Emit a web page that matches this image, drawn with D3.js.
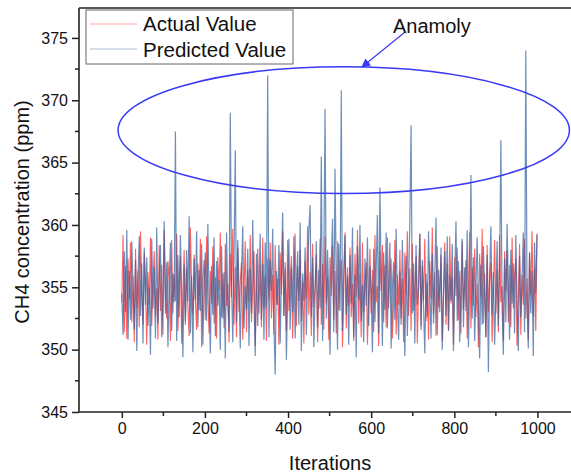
<!DOCTYPE html>
<html>
<head>
<meta charset="utf-8">
<script src="https://cdn.jsdelivr.net/npm/d3@7"></script>
<style>
  body { margin: 0; background: #fff; }
  text { font-family: Arial, "Liberation Sans", sans-serif; }
</style>
</head>
<body>
<svg class="chart" width="571" height="474"></svg>
<script>
// iteration step between samples
var iterStep = 3;

var actualValues = [
  353.8, 359.2, 351.4, 356.7, 350.9, 357.3, 354.1, 358.6, 352.2, 355.9, 350.6, 358.1, 353.3, 356.4, 351.8, 359.5, 354.7, 352.0, 357.8, 355.1,
  350.4, 356.2, 353.6, 359.0, 351.9, 355.4, 357.9, 352.7, 354.9, 350.8, 358.4, 353.1, 356.8, 351.2, 359.6, 354.4, 352.5, 357.1, 355.7, 350.7,
  358.8, 352.9, 356.0, 353.9, 359.3, 351.5, 355.2, 357.5, 350.5, 354.6, 358.0, 352.3, 356.5, 353.4, 351.1, 359.8, 355.0, 352.8, 357.6, 354.0,
  351.6, 356.9, 353.2, 358.9, 350.2, 355.6, 357.2, 352.4, 359.1, 354.3, 351.3, 356.3, 353.7, 358.3, 352.1, 355.8, 350.9, 357.4, 354.8, 359.4,
  352.6, 356.1, 351.7, 358.5, 353.5, 355.3, 350.6, 357.7, 354.2, 359.7, 352.0, 356.6, 351.0, 358.2, 353.0, 355.5, 357.0, 350.8, 354.5, 358.7,
  351.4, 356.4, 353.8, 359.2, 352.2, 355.1, 357.9, 350.3, 354.7, 358.1, 352.9, 356.8, 351.8, 359.0, 353.3, 355.9, 350.7, 357.3, 354.0, 358.6,
  352.5, 356.0, 351.2, 358.4, 353.6, 355.7, 350.4, 357.8, 354.4, 359.5, 352.7, 356.5, 351.5, 358.8, 353.1, 355.2, 357.5, 350.9, 354.9, 359.3,
  351.9, 356.7, 353.9, 358.0, 352.3, 355.4, 350.5, 357.1, 354.1, 359.9, 352.8, 356.2, 351.1, 358.5, 353.4, 355.0, 357.6, 350.6, 354.6, 358.9,
  352.0, 356.9, 351.6, 359.1, 353.7, 355.8, 350.8, 357.4, 354.3, 358.3, 352.4, 356.3, 351.3, 358.7, 353.2, 355.6, 357.2, 350.2, 354.8, 359.4,
  351.7, 356.6, 353.5, 358.2, 352.6, 355.3, 350.7, 357.7, 354.2, 359.6, 352.1, 356.1, 351.0, 358.6, 353.0, 355.5, 357.0, 350.4, 354.5, 358.1,
  352.9, 356.4, 351.4, 359.2, 353.8, 355.1, 350.3, 357.9, 354.7, 358.4, 352.2, 356.8, 351.8, 359.0, 353.3, 355.9, 357.3, 350.9, 354.0, 358.8,
  351.2, 356.0, 353.6, 358.0, 352.5, 355.7, 350.6, 357.8, 354.4, 359.5, 352.7, 356.5, 351.5, 358.5, 353.1, 355.2, 357.5, 350.5, 354.9, 359.3,
  351.9, 356.7, 353.9, 358.9, 352.3, 355.4, 350.8, 357.1, 354.1, 359.8, 352.8, 356.2, 351.1, 358.3, 353.4, 355.0, 357.6, 350.7, 354.6, 358.6,
  352.0, 356.9, 351.6, 359.1, 353.7, 355.8, 350.4, 357.4, 354.3, 358.2, 352.4, 356.3, 351.3, 358.7, 353.2, 355.6, 357.2, 350.9, 354.8, 359.4,
  351.7, 356.6, 353.5, 358.1, 352.6, 355.3, 350.2, 357.7, 354.2, 359.7, 352.1, 356.1, 351.0, 358.4, 353.0, 355.5, 357.0, 350.6, 354.5, 358.8,
  352.9, 356.4, 351.4, 359.2, 353.8, 355.1, 350.7, 357.9, 354.7, 358.0, 352.2, 356.8, 351.8, 359.0, 353.3, 355.9, 357.3, 350.3, 354.0, 358.5,
  351.2, 356.0, 353.6, 358.9, 352.5, 355.7, 350.8, 357.8, 354.4, 359.5, 352.7, 356.5, 351.5, 359.2
];

var predictedValues = [
  354.5, 351.2, 357.9, 353.0, 359.6, 350.8, 356.3, 352.4, 358.7, 354.9, 351.6, 357.2, 349.9, 355.8, 359.1, 352.7, 356.9, 350.5, 358.2, 353.6,
  357.4, 351.9, 355.0, 349.6, 358.9, 353.3, 356.6, 350.9, 359.8, 352.1, 355.7, 358.4, 351.0, 354.2, 360.3, 352.9, 357.0, 350.2, 355.4, 358.6,
  351.5, 356.1, 353.8, 367.5, 350.7, 357.6, 352.6, 359.2, 354.6, 349.4, 356.8, 352.0, 358.0, 353.9, 360.7, 351.3, 355.9, 349.8, 357.3, 354.0,
  359.5, 351.8, 356.4, 353.1, 358.5, 350.4, 355.2, 357.8, 352.3, 360.1, 354.3, 349.7, 356.7, 352.8, 359.0, 351.1, 357.1, 353.5, 355.6, 350.0,
  358.3, 352.5, 356.2, 349.3, 359.4, 353.7, 351.4, 369.0, 355.3, 350.6, 357.5, 366.0, 352.2, 358.8, 354.8, 350.1, 356.0, 359.9, 351.7, 355.1,
  353.2, 358.1, 350.3, 356.5, 352.9, 360.4, 354.1, 349.5, 357.7, 351.9, 355.5, 359.3, 352.4, 356.9, 350.8, 358.6, 353.4, 372.0, 351.0, 357.2,
  354.7, 359.7, 352.1, 348.0, 356.3, 353.6, 358.4, 350.5, 355.8, 361.0, 352.7, 357.0, 349.2, 354.4, 358.9, 351.6, 356.6, 353.0, 359.1, 350.9,
  355.0, 357.9, 352.0, 360.2, 349.9, 356.1, 353.9, 358.2, 351.2, 355.6, 359.6, 361.6, 352.6, 357.4, 350.2, 354.5, 358.7, 351.8, 356.4, 353.3,
  365.5, 350.7, 357.1, 369.3, 352.5, 358.0, 354.2, 349.6, 356.8, 360.5, 351.4, 364.5, 355.4, 350.0, 358.5, 353.1, 370.8, 351.5, 356.2, 359.2,
  352.8, 355.9, 350.4, 357.6, 353.7, 359.8, 351.0, 356.0, 349.4, 358.3, 354.0, 360.0, 352.3, 355.2, 350.6, 357.3, 353.5, 359.0, 351.9, 356.7,
  354.6, 349.8, 358.1, 352.2, 356.5, 360.8, 351.3, 363.0, 355.7, 350.3, 357.8, 353.2, 359.4, 351.7, 355.3, 358.6, 350.1, 354.9, 357.0, 352.4,
  359.7, 353.8, 350.8, 356.3, 352.0, 358.8, 354.3, 349.5, 357.5, 351.1, 355.5, 360.2, 368.0, 352.9, 356.9, 350.5, 358.4, 353.6, 355.0, 359.3,
  351.6, 357.2, 353.4, 349.7, 356.1, 352.6, 359.5, 354.8, 350.9, 357.7, 352.1, 355.8, 360.6, 351.2, 356.4, 353.0, 358.2, 350.0, 354.1, 357.9,
  352.7, 359.1, 351.5, 356.0, 353.9, 358.5, 349.9, 355.6, 360.3, 352.3, 357.1, 350.6, 354.7, 358.9, 351.8, 356.6, 353.1, 359.6, 350.2, 355.4,
  364.0, 352.5, 357.4, 350.7, 355.2, 359.0, 353.5, 349.3, 356.8, 352.0, 358.3, 354.4, 351.0, 357.6, 348.2, 355.9, 359.9, 352.8, 356.2, 350.4,
  354.2, 358.7, 351.9, 356.5, 366.8, 353.3, 349.6, 357.3, 352.2, 360.1, 355.1, 350.8, 358.0, 353.7, 356.9, 351.3, 359.2, 354.0, 349.9, 357.5,
  352.6, 355.7, 359.4, 351.4, 374.0, 353.8, 350.1, 357.8, 352.9, 356.3, 349.5, 358.6, 354.5, 359.3
];

var xTicks = [0, 200, 400, 600, 800, 1000];
var xMinorTicks = [100, 300, 500, 700, 900];
var yTicks = [345, 350, 355, 360, 365, 370, 375];
var yMinorTicks = [347.5, 352.5, 357.5, 362.5, 367.5, 372.5];

var seriesNames = ["Actual Value", "Predicted Value"];

// anomaly ellipse in data units: centre, half widths
var anomalyCenter = [534, 367.6];
var anomalyRadius = [543, 5.08];

var svg = d3.select(".chart");

var plotLeft = 79, plotTop = 8, plotBottom = 412;

var x = d3.scaleLinear().domain([-103, 1100]).range([plotLeft, 579]);
var y = d3.scaleLinear().domain([345, 377.4]).range([plotBottom, plotTop]);

var colors = ["#ff1f1f", "#2f5f9c"];

var line = d3.line()
    .x((d, i) => x(i * iterStep))
    .y(d => y(d));

svg.append("path")
    .datum(actualValues)
    .attr("d", line)
    .attr("fill", "none")
    .attr("stroke", colors[0])
    .attr("stroke-width", 1.1)
    .attr("stroke-opacity", 0.7);

svg.append("path")
    .datum(predictedValues)
    .attr("d", line)
    .attr("fill", "none")
    .attr("stroke", colors[1])
    .attr("stroke-width", 1.2)
    .attr("stroke-opacity", 0.7);

// top frame line
svg.append("line")
    .attr("x1", plotLeft).attr("x2", 571)
    .attr("y1", plotTop).attr("y2", plotTop)
    .attr("stroke", "#222").attr("stroke-width", 1.6);

// axes
var xAxis = svg.append("g")
    .attr("transform", `translate(0, ${plotBottom})`)
    .call(d3.axisBottom(x).tickValues(xTicks).tickFormat(d3.format("d"))
        .tickSize(6).tickSizeOuter(0).tickPadding(5));
xAxis.append("g").selectAll("line")
    .data(xMinorTicks).join("line")
    .attr("x1", d => x(d)).attr("x2", d => x(d))
    .attr("y1", 0).attr("y2", 4)
    .attr("stroke", "#222").attr("stroke-width", 1.5);

var yAxis = svg.append("g")
    .attr("transform", `translate(${plotLeft}, 0)`)
    .call(d3.axisLeft(y).tickValues(yTicks).tickSize(7).tickSizeOuter(0).tickPadding(4));
yAxis.append("g").selectAll("line")
    .data(yMinorTicks).join("line")
    .attr("x1", -4).attr("x2", 0)
    .attr("y1", d => y(d)).attr("y2", d => y(d))
    .attr("stroke", "#222").attr("stroke-width", 1.5);

[xAxis, yAxis].forEach(function (a) {
    a.select(".domain").attr("stroke", "#222").attr("stroke-width", 1.6);
    a.selectAll(".tick line").attr("stroke", "#222").attr("stroke-width", 1.5);
    a.selectAll(".tick text")
        .attr("font-family", "Arial, 'Liberation Sans', sans-serif")
        .attr("font-size", "16px")
        .attr("fill", "#111");
});
// extend x axis line to the right edge
xAxis.select(".domain").attr("d", `M${plotLeft},0H571`);
yAxis.select(".domain").attr("d", `M0,${plotTop}V${plotBottom}`);

// axis titles
svg.append("text")
    .attr("x", 330)
    .attr("y", 470)
    .attr("text-anchor", "middle")
    .attr("font-size", "20px")
    .attr("fill", "#111")
    .text("Iterations");

svg.append("text")
    .attr("transform", "translate(29, 212) rotate(-90)")
    .attr("text-anchor", "middle")
    .attr("font-size", "20px")
    .attr("fill", "#111")
    .text("CH4 concentration (ppm)");

// anomaly annotation
svg.append("ellipse")
    .attr("cx", x(anomalyCenter[0]))
    .attr("cy", y(anomalyCenter[1]))
    .attr("rx", x(anomalyCenter[0] + anomalyRadius[0]) - x(anomalyCenter[0]))
    .attr("ry", y(anomalyCenter[1] - anomalyRadius[1]) - y(anomalyCenter[1]))
    .attr("fill", "none")
    .attr("stroke", "#3a3af5")
    .attr("stroke-width", 1.5);

svg.append("defs").append("marker")
    .attr("id", "arrow")
    .attr("viewBox", "0 0 10 10")
    .attr("refX", 9).attr("refY", 5)
    .attr("markerWidth", 9).attr("markerHeight", 9)
    .attr("markerUnits", "userSpaceOnUse")
    .attr("orient", "auto")
    .append("path")
    .attr("d", "M0,0L10,5L0,10z")
    .attr("fill", "#3a3af5");

svg.append("line")
    .attr("x1", 405).attr("y1", 32)
    .attr("x2", 362).attr("y2", 67)
    .attr("stroke", "#3a3af5")
    .attr("stroke-width", 1.2)
    .attr("marker-end", "url(#arrow)");

svg.append("text")
    .attr("x", 393)
    .attr("y", 33)
    .attr("font-size", "20px")
    .attr("fill", "#111")
    .text("Anamoly");

// legend
var legend = svg.append("g").attr("transform", "translate(86, 10)");
legend.append("rect")
    .attr("x", 0).attr("y", 0)
    .attr("width", 207).attr("height", 54)
    .attr("fill", "#fff")
    .attr("stroke", "#666")
    .attr("stroke-width", 1);

legend.selectAll(".legline")
    .data(seriesNames).join("line")
    .attr("x1", 4).attr("x2", 51)
    .attr("y1", (d, i) => 14 + i * 25)
    .attr("y2", (d, i) => 14 + i * 25)
    .attr("stroke", (d, i) => colors[i])
    .attr("stroke-opacity", 0.4)
    .attr("stroke-width", 1.2);

legend.selectAll(".legtext")
    .data(seriesNames).join("text")
    .attr("x", 57)
    .attr("y", (d, i) => 21 + i * 26)
    .attr("font-size", "20.5px")
    .attr("fill", "#111")
    .text(d => d);
</script>
</body>
</html>
